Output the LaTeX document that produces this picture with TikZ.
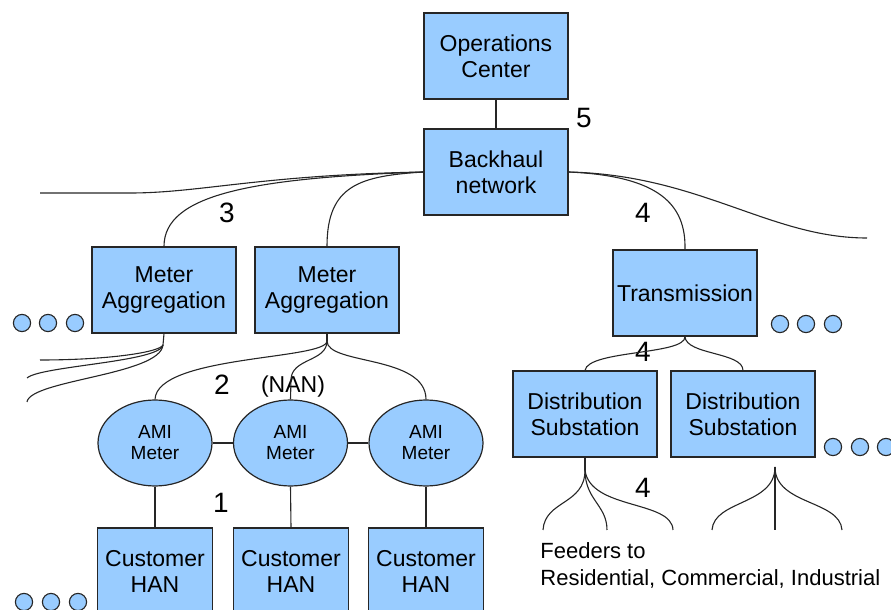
\documentclass[tikz,border=0pt]{standalone}
\usepackage{fontspec}
\setmainfont{Liberation Sans}
\usepackage{tikz}
\usetikzlibrary{shapes.geometric}

\definecolor{boxblue}{RGB}{153,204,255}

\tikzset{
	unitbox/.style={draw=black!85,fill=boxblue,line width=0.6pt,minimum width=72pt,minimum height=43pt,align=center,inner sep=1pt,font=\fontsize{11.5}{13}\selectfont},
	hanbox/.style={unitbox,minimum width=57.5pt},
	amibox/.style={ellipse,draw=black!85,fill=boxblue,line width=0.6pt,minimum width=57pt,minimum height=43pt,align=center,inner sep=0pt,font=\fontsize{9.5}{10.5}\selectfont},
	numlabel/.style={font=\fontsize{14}{16}\selectfont,inner sep=0pt},
	wire/.style={line width=0.55pt,black!85},
	dotc/.style={draw=black!85,fill=boxblue,line width=0.55pt}
}

\begin{document}
\begin{tikzpicture}[x=0.5pt,y=-0.5pt]
		\useasboundingbox (0,0) rectangle (891,610);
		\clip (0,0) rectangle (891,610);
		% boxes
		\node[unitbox] (oc) at (496,56) {Operations\\Center};
		\node[unitbox] (bh) at (496,172) {Backhaul\\network};
		\node[unitbox] (ma1) at (164,290) {Meter\\Aggregation};
		\node[unitbox] (ma2) at (327,290) {Meter\\Aggregation};
		\node[unitbox] (tr) at (685,293) {Transmission};
		\node[unitbox] (ds1) at (585,414) {Distribution\\Substation};
		\node[unitbox] (ds2) at (743,414) {Distribution\\Substation};
		\node[amibox] (ami1) at (155,443) {AMI\\Meter};
		\node[amibox] (ami2) at (290.5,443) {AMI\\Meter};
		\node[amibox] (ami3) at (426,443) {AMI\\Meter};
		\node[hanbox] (han1) at (155,571) {Customer\\HAN};
		\node[hanbox] (han2) at (291,571) {Customer\\HAN};
		\node[hanbox] (han3) at (426,571) {Customer\\HAN};
		
		% labels
		\node[numlabel] (l5) at (584,118) {5};
		\node[numlabel] (l3) at (227,213) {3};
		\node[numlabel] (l4a) at (643,213) {4};
		\node[numlabel] (l4b) at (643,352) {4};
		\node[numlabel] (l4c) at (643,488) {4};
		\node[numlabel] (l2) at (222,385) {2};
		\node[numlabel] (l1) at (221,503) {1};
		\node[font=\fontsize{11.5}{13}\selectfont,inner sep=0pt] (nan) at (293,387) {(NAN)};
		\node[font=\fontsize{11}{13.5}\selectfont,inner sep=0pt,align=left,anchor=west] (feed) at (540,565) {Feeders to\\Residential, Commercial, Industrial};
		
		% free ends
		\coordinate (bhl) at (40,193);
		\coordinate (bhr) at (867,238);
		\coordinate (nanfork) at (327,341);
		\coordinate (mafork) at (163,345);
		\coordinate (ds1fork) at (585,470);
		\coordinate (ds2fork) at (775,467);
		
		\draw[wire] (oc.south) -- (bh.north);
		\draw[wire] (bh.west) .. controls (260,175) and (200,193) .. (130,193) -- (bhl);
		\draw[wire] (bh.west) .. controls (250,178) and (164,195) .. (ma1.north);
		\draw[wire] (bh.west) .. controls (360,176) and (327,185) .. (ma2.north);
		\draw[wire] (bh.east) .. controls (700,175) and (770,238) .. (bhr);
		\draw[wire] (bh.east) .. controls (660,176) and (686,205) .. (tr.north);
		
		\draw[wire] (tr.south) .. controls (686,355) and (588,350) .. (ds1.north);
		\draw[wire] (tr.south) .. controls (686,355) and (743,352) .. (ds2.north);
		
		\draw[wire] (ma2.south) -- (nanfork);
		\draw[wire] (nanfork) .. controls (327,360) and (157,355) .. (ami1.north);
		\draw[wire] (nanfork) .. controls (327,362) and (291,358) .. (291,380) -- (ami2.north);
		\draw[wire] (nanfork) .. controls (327,365) and (426,355) .. (ami3.north);
		
		\draw[wire] (ma1.south) -- (mafork);
		\draw[wire] (mafork) .. controls (160,352) and (110,360) .. (40,360);
		\draw[wire] (mafork) .. controls (160,362) and (40,366) .. (27,378);
		\draw[wire] (mafork) .. controls (160,375) and (30,380) .. (27,402);
		
		\draw[wire] (ami1.east) -- (ami2.west);
		\draw[wire] (ami2.east) -- (ami3.west);
		\foreach \i in {1,2,3}
			\draw[wire] (ami\i.south) -- (han\i.north);
		
		\draw[wire] (ds1.south) -- (ds1fork);
		\draw[wire] (ds1fork) .. controls (585,505) and (545,500) .. (543,530);
		\draw[wire] (ds1fork) .. controls (585,500) and (607,505) .. (607,530);
		\draw[wire] (ds1fork) .. controls (590,510) and (672,500) .. (673,530);
		\draw[wire] (ds2fork) -- (775,530);
		\draw[wire] (ds2fork) .. controls (775,505) and (714,500) .. (712,530);
		\draw[wire] (ds2fork) .. controls (775,505) and (840,500) .. (842,530);
		
		% dots
		\foreach \x in {22,48,75}
			\draw[dotc] (\x,323) circle[radius=4.3pt];
		\foreach \x in {780,806,833}
			\draw[dotc] (\x,324) circle[radius=4.3pt];
		\foreach \x in {833,860,886}
			\draw[dotc] (\x,447) circle[radius=4.3pt];
		\foreach \x in {24,51,78}
			\draw[dotc] (\x,602) circle[radius=4.3pt];
	\end{tikzpicture}
\end{document}
